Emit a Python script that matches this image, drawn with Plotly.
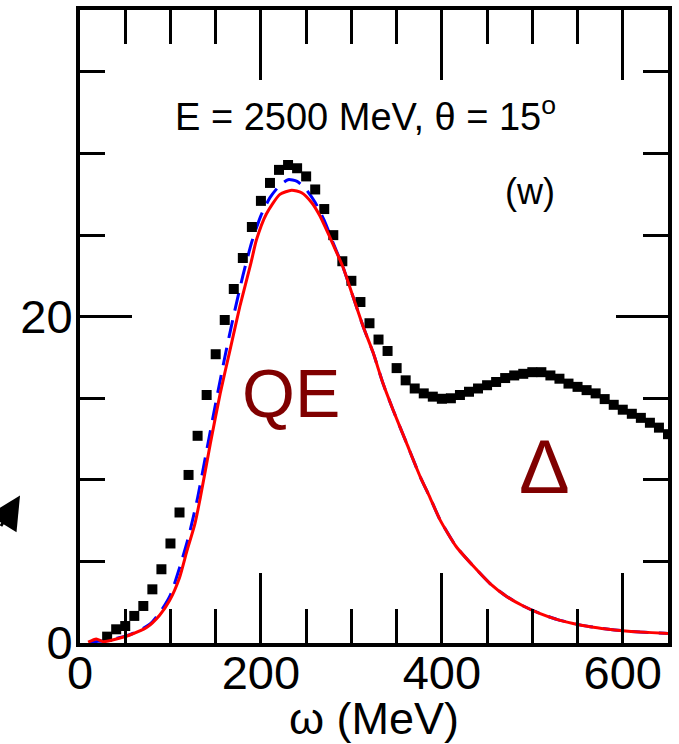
import plotly.graph_objects as go

# Data
data_x = [30, 40, 50, 60, 70, 80, 90, 100, 110, 120, 130, 140, 150, 160, 170, 180,
          190, 200, 210, 220, 230, 240, 250, 260, 270, 280, 290, 300, 310, 320, 330,
          340, 350, 360, 370, 380, 390, 400, 410, 420, 430, 440, 450, 460, 470, 480,
          490, 500, 510, 520, 530, 540, 550, 560, 570, 580, 590, 600, 610, 620, 630,
          640, 650]
data_y = [0.39, 0.84, 1.04, 1.66, 2.27, 3.29, 4.52, 6.1, 8.0, 10.3, 12.7, 15.2, 17.7,
          19.8, 21.7, 23.6, 25.5, 27.1, 28.2, 29.0, 29.3, 29.1, 28.6, 27.8, 26.6, 25.0,
          23.4, 22.2, 20.9, 19.6, 18.6, 17.9, 16.85, 16.1, 15.6, 15.3, 15.1, 14.97,
          15.0, 15.2, 15.4, 15.6, 15.8, 16.0, 16.24, 16.4, 16.5, 16.6, 16.6, 16.4,
          16.2, 15.9, 15.7, 15.5, 15.3, 14.95, 14.6, 14.3, 14.05, 13.8, 13.5, 13.2, 12.8]

red_x = [9, 18, 26, 37, 55, 74, 88, 99, 110, 118, 127, 133, 144, 155, 166, 177, 189,
         195, 206, 221, 234, 245, 256, 265, 276, 284, 291, 302, 313, 324, 335, 346,
         361, 376, 387, 398, 416, 435, 453, 472, 490, 508, 527, 545, 564, 582, 600,
         619, 646, 650]
red_y = [0.05, 0.25, 0.08, 0.2, 0.49, 0.96, 1.7, 2.6, 4.0, 5.6, 7.3, 8.9, 12.2, 15.3,
         18.0, 20.7, 23.3, 24.7, 26.3, 27.5, 27.75, 27.6, 27.0, 26.2, 24.9, 23.9, 23.0,
         21.2, 19.4, 17.8, 15.9, 14.3, 12.25, 10.2, 8.9, 7.55, 5.9, 4.7, 3.66, 2.84,
         2.27, 1.82, 1.45, 1.2, 1.0, 0.86, 0.75, 0.67, 0.6, 0.58]

blue_x = [10, 20, 30, 40, 50, 60, 70, 80, 90, 100, 110, 120, 130, 140, 150, 160, 170,
          180, 190, 200, 210, 220, 230, 240, 250, 260, 270, 280, 291, 302, 313, 324,
          335, 346, 361, 376, 387, 398, 416, 435, 453, 472, 490, 508, 527, 545, 564,
          582, 600, 619, 646, 650]
blue_y = [0.05, 0.1, 0.15, 0.28, 0.42, 0.62, 0.9, 1.3, 2.0, 2.95, 4.6, 6.5, 8.9, 11.8,
          14.7, 17.5, 20.1, 22.5, 24.6, 26.2, 27.3, 28.0, 28.4, 28.3, 27.8, 27.0, 25.9,
          24.5, 23.0, 21.2, 19.4, 17.8, 15.9, 14.3, 12.25, 10.2, 8.9, 7.55, 5.9, 4.7,
          3.66, 2.84, 2.27, 1.82, 1.45, 1.2, 1.0, 0.86, 0.75, 0.67, 0.6, 0.58]

FONT = "Liberation Sans, Arial, Helvetica, sans-serif"

fig = go.Figure()
fig.add_trace(go.Scatter(x=blue_x, y=blue_y, mode="lines",
                         line=dict(color="#0000ff", width=3, dash="18px,10px", shape="spline", smoothing=0.6),
                         showlegend=False, hoverinfo="skip"))
fig.add_trace(go.Scatter(x=data_x, y=data_y, mode="markers",
                         marker=dict(symbol="square", size=10, color="black"),
                         showlegend=False, cliponaxis=True))
fig.add_trace(go.Scatter(x=red_x, y=red_y, mode="lines",
                         line=dict(color="#ff0000", width=3, shape="spline", smoothing=0.6),
                         showlegend=False, hoverinfo="skip"))

fig.update_xaxes(range=[0, 650], dtick=200, tick0=0, ticks="inside", ticklen=70, tickwidth=3,
                 tickcolor="black", showline=True, linecolor="black", linewidth=4,
                 mirror="allticks", showgrid=False, zeroline=False, automargin=False,
                 ticklabelstandoff=-14,
                 tickfont=dict(family=FONT, size=47, color="black"),
                 minor=dict(dtick=50, tick0=0, ticks="inside", ticklen=34, tickwidth=3,
                            tickcolor="black", showgrid=False),
                 title=dict(text="ω (MeV)", font=dict(family=FONT, size=45, color="black"), standoff=0))
fig.update_yaxes(range=[0, 38.8], dtick=20, tick0=0, ticks="inside", ticklen=52, tickwidth=3,
                 tickcolor="black", showline=True, linecolor="black", linewidth=4,
                 mirror="allticks", showgrid=False, zeroline=False, automargin=False,
                 ticklabelstandoff=-6,
                 tickfont=dict(family=FONT, size=47, color="black"),
                 minor=dict(dtick=5, tick0=0, ticks="inside", ticklen=25, tickwidth=3,
                            tickcolor="black", showgrid=False))

fig.add_annotation(x=316, y=32.4, text="E = 2500 MeV, θ = 15<sup>o</sup>", showarrow=False,
                   font=dict(family=FONT, size=38, color="black"), xanchor="center", yanchor="middle")
fig.add_annotation(x=497, y=27.7, text="(w)", showarrow=False,
                   font=dict(family=FONT, size=36, color="black"), xanchor="center", yanchor="middle")
fig.add_annotation(x=233, y=15.3, text="QE", showarrow=False,
                   font=dict(family=FONT, size=68, color="#800000"), xanchor="center", yanchor="middle")
fig.add_annotation(x=513, y=10.8, text="Δ", showarrow=False,
                   font=dict(family=FONT, size=76, color="#800000"), xanchor="center", yanchor="middle")
# partial arrow entering from the left edge
fig.add_annotation(xref="paper", yref="paper", x=-0.102, y=0.233, text="", showarrow=True,
                   arrowhead=2, arrowsize=2.2, arrowwidth=3, arrowcolor="black", ax=-40, ay=32)

fig.update_layout(width=679, height=744, margin=dict(l=80, r=11, t=10, b=101),
                  plot_bgcolor="white", paper_bgcolor="white")

fig.write_html("out.html")
